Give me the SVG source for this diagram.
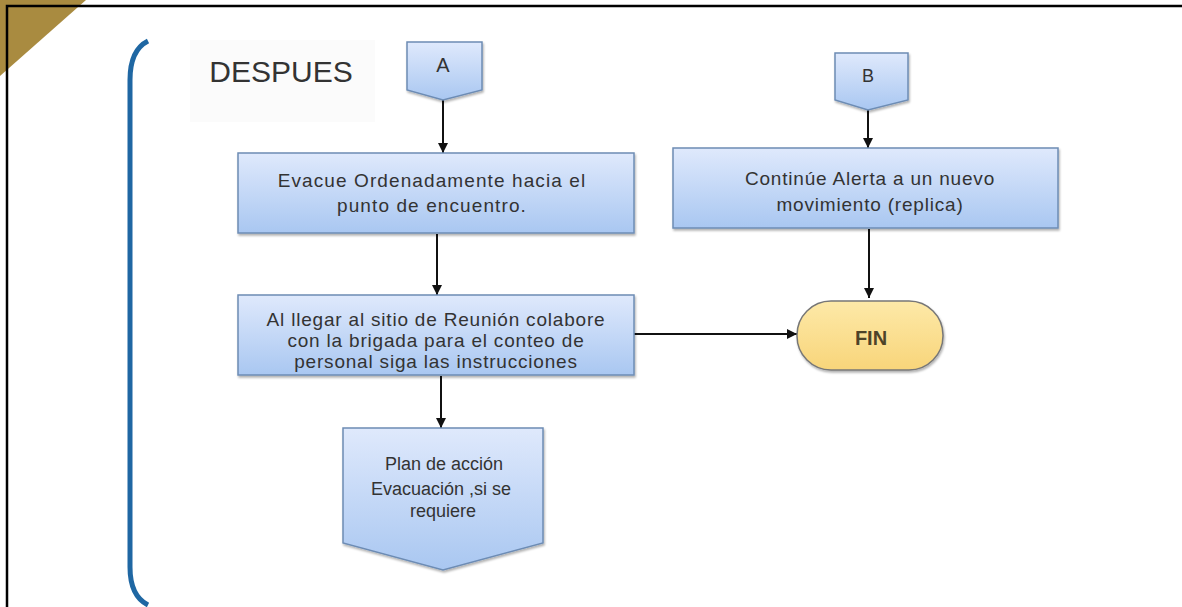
<svg xmlns="http://www.w3.org/2000/svg" width="1182" height="607" viewBox="0 0 1182 607">
<style>
.txt{font-family:"Liberation Sans",Arial,sans-serif;fill:#333;text-anchor:middle}
.bt{font-size:19px;letter-spacing:0.8px}
.box{fill:url(#gBlue);stroke:#6d8cb4;stroke-width:1.5}
.conn{stroke:#111;stroke-width:2;fill:none;marker-end:url(#arr)}
</style>
<defs>
<linearGradient id="gBlue" x1="0" y1="0" x2="0" y2="1">
<stop offset="0" stop-color="#dfe9fc"/>
<stop offset="1" stop-color="#a9c7f1"/>
</linearGradient>
<linearGradient id="gYel" x1="0" y1="0" x2="0" y2="1">
<stop offset="0" stop-color="#fde9a8"/>
<stop offset="1" stop-color="#f8d57a"/>
</linearGradient>
<filter id="sh" x="-10%" y="-10%" width="120%" height="130%">
<feDropShadow dx="1" dy="2" stdDeviation="1.2" flood-color="#000" flood-opacity="0.3"/>
</filter>
<marker id="arr" viewBox="0 0 10 10" refX="10" refY="5" markerWidth="10" markerHeight="10" orient="auto" markerUnits="userSpaceOnUse">
<path d="M0,0 L10,5 L0,10 z" fill="#111"/>
</marker>
</defs>
<rect width="1182" height="607" fill="#fff"/>
<polygon points="0,0 86,0 0,76" fill="#a98b40"/>
<path d="M7,607 L7,6 L1182,6" fill="none" stroke="#000" stroke-width="2.5"/>
<path d="M148,41 Q130,50 130,80 L130,567 Q130,596 148,605" fill="none" stroke="#1f67a3" stroke-width="5"/>
<rect x="190" y="40" width="185" height="82" fill="#fbfbfb"/>
<text class="txt" x="281" y="82" font-size="30">DESPUES</text>
<g id="connectors">
<line class="conn" x1="443" y1="100" x2="443" y2="153"/>
<line class="conn" x1="437" y1="234" x2="437" y2="295"/>
<line class="conn" x1="441" y1="376" x2="441" y2="428"/>
<line class="conn" x1="634" y1="334" x2="797" y2="334"/>
<line class="conn" x1="868" y1="110" x2="868" y2="148"/>
<line class="conn" x1="869" y1="229" x2="869" y2="298"/>
</g>
<g id="nodeA">
<polygon class="box" filter="url(#sh)" points="407,42 482,42 482,90 443,100 407,90"/>
<text class="txt" x="443" y="72" font-size="20">A</text>
</g>
<g id="nodeB">
<polygon class="box" filter="url(#sh)" points="835,53 908,53 908,100 868,110 835,100"/>
<text class="txt" x="868" y="82" font-size="18">B</text>
</g>
<g id="evacue">
<rect class="box" filter="url(#sh)" x="238" y="153" width="396" height="80"/>
<text class="txt bt" x="432" y="187" style="letter-spacing:1.1px">Evacue Ordenadamente  hacia el</text>
<text class="txt bt" x="432" y="212" style="letter-spacing:1.1px">punto de encuentro.</text>
</g>
<g id="continue">
<rect class="box" filter="url(#sh)" x="673" y="148" width="385" height="80"/>
<text class="txt bt" x="870" y="185">Continúe Alerta a un nuevo</text>
<text class="txt bt" x="870" y="211">movimiento  (replica)</text>
</g>
<g id="reunion">
<rect class="box" filter="url(#sh)" x="238" y="295" width="396" height="80"/>
<text class="txt bt" x="436" y="326">Al llegar al sitio de Reunión colabore</text>
<text class="txt bt" x="436" y="347">con la brigada para el conteo de</text>
<text class="txt bt" x="436" y="368">personal siga las instrucciones</text>
</g>
<g id="fin">
<rect x="797" y="301" width="146" height="69" rx="34" ry="34" fill="url(#gYel)" stroke="#777" stroke-width="1.5" filter="url(#sh)"/>
<text class="txt" x="871" y="345" font-size="20" font-weight="bold" style="fill:#4d4328">FIN</text>
</g>
<g id="plan">
<polygon class="box" filter="url(#sh)" points="343,428 543,428 543,543 443,570 343,543"/>
<text class="txt" x="444" y="470" font-size="18">Plan de acción</text>
<text class="txt" x="441" y="495" font-size="18">Evacuación ,si se</text>
<text class="txt" x="443" y="517" font-size="18">requiere</text>
</g>
</svg>
